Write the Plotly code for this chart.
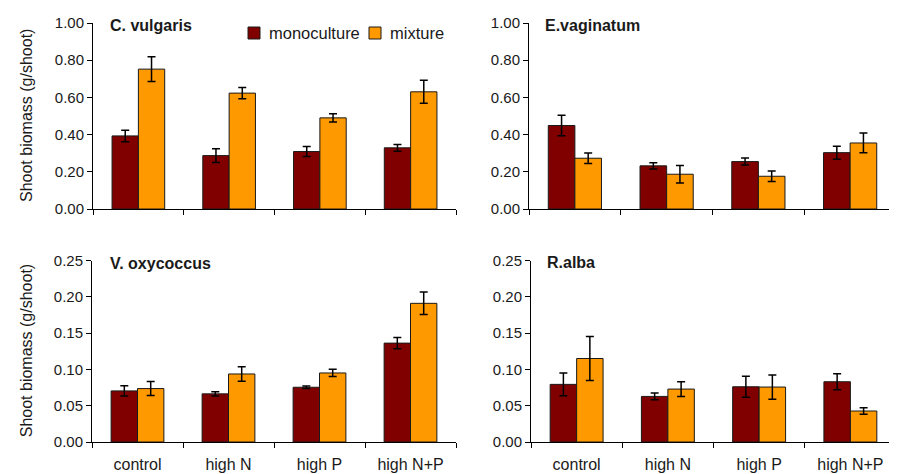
import plotly.graph_objects as go

categories = ["control", "high N", "high P", "high N+P"]
series_names = ["monoculture", "mixture"]

# C. vulgaris
cv_mono = [0.393, 0.287, 0.309, 0.329]
cv_mono_err = [0.031, 0.037, 0.027, 0.018]
cv_mix = [0.752, 0.623, 0.490, 0.630]
cv_mix_err = [0.067, 0.030, 0.022, 0.062]

# E. vaginatum
ev_mono = [0.449, 0.232, 0.255, 0.303]
ev_mono_err = [0.055, 0.017, 0.019, 0.035]
ev_mix = [0.273, 0.187, 0.176, 0.355]
ev_mix_err = [0.028, 0.047, 0.028, 0.053]

# V. oxycoccus
vo_mono = [0.0704, 0.0663, 0.0754, 0.1362]
vo_mono_err = [0.0071, 0.0028, 0.0018, 0.0076]
vo_mix = [0.0736, 0.0937, 0.0951, 0.1910]
vo_mix_err = [0.0096, 0.0100, 0.0050, 0.0155]

# R. alba
ra_mono = [0.0794, 0.0628, 0.0761, 0.0830]
ra_mono_err = [0.0156, 0.0046, 0.0145, 0.0110]
ra_mix = [0.1150, 0.0729, 0.0757, 0.0427]
ra_mix_err = [0.0303, 0.0101, 0.0167, 0.0044]

panel_titles = ["C. vulgaris", "E.vaginatum", "V. oxycoccus", "R.alba"]
y_title = "Shoot biomass (g/shoot)"

MONO_COLOR = "#800000"
MIX_COLOR = "#FF9900"
FONT = "Liberation Sans, Arial, sans-serif"

W, H = 897, 474
OFF = 8  # page body margin offset


def px_x(p):
    return (p - OFF) / W


def px_y(p):
    return 1 - (p - OFF) / H


panels = [
    (cv_mono, cv_mono_err, cv_mix, cv_mix_err),
    (ev_mono, ev_mono_err, ev_mix, ev_mix_err),
    (vo_mono, vo_mono_err, vo_mix, vo_mix_err),
    (ra_mono, ra_mono_err, ra_mix, ra_mix_err),
]

# screen pixel geometry -> paper domains
x_doms = [(px_x(93), px_x(456)), (px_x(529), px_x(896)),
          (px_x(92), px_x(456)), (px_x(531), px_x(896))]
y_doms = [(px_y(209), px_y(23)), (px_y(209), px_y(23)),
          (px_y(442), px_y(260.5)), (px_y(442), px_y(260.5))]

fig = go.Figure()
for i, (m, me, x, xe) in enumerate(panels):
    ax = "" if i == 0 else str(i + 1)
    for vals, errs, name, col in [(m, me, series_names[0], MONO_COLOR),
                                  (x, xe, series_names[1], MIX_COLOR)]:
        fig.add_trace(go.Bar(
            x=categories, y=vals, name=name,
            marker=dict(color=col, line=dict(color="#1a1a1a", width=1)),
            error_y=dict(type="data", array=errs, color="black", thickness=1.5, width=4),
            xaxis="x" + ax, yaxis="y" + ax,
            showlegend=False,
        ))

layout = dict(
    width=W, height=H,
    margin=dict(l=0, r=0, t=0, b=0, autoexpand=False),
    paper_bgcolor="white", plot_bgcolor="white",
    barmode="group", bargap=0.42, bargroupgap=0,
    font=dict(family=FONT, size=15, color="#1a1a1a"),
    showlegend=False,
)

annotations = []
shapes = []
for i in range(4):
    ax = "" if i == 0 else str(i + 1)
    bottom = i >= 2
    layout["xaxis" + ax] = dict(
        domain=list(x_doms[i]), anchor="y" + ax, type="category",
        showline=True, linecolor="black", linewidth=1,
        ticks="outside", ticklen=5, tickcolor="black", tickson="boundaries",
        showticklabels=bottom, tickfont=dict(size=16), showgrid=False,
        ticklabelstandoff=8,
        range=[-0.5, 3.5], fixedrange=True,
    )
    yax = dict(
        domain=list(y_doms[i]), anchor="x" + ax,
        showline=True, linecolor="black", linewidth=1,
        ticks="outside", ticklen=5, tickcolor="black",
        showgrid=False, zeroline=False, tickfont=dict(size=15),
    )
    if bottom:
        yax.update(range=[0, 0.25], dtick=0.05, tickformat=".2f")
    else:
        yax.update(range=[0, 1.0], dtick=0.2, tickformat=".2f")
    layout["yaxis" + ax] = yax
    if i in (0, 2):
        ymid = (y_doms[i][0] + y_doms[i][1]) / 2
        annotations.append(dict(
            text=y_title, x=px_x(26), y=ymid, xref="paper", yref="paper",
            textangle=-90, showarrow=False, font=dict(size=16),
            xanchor="center", yanchor="middle",
        ))

title_pos = [(108, 25), (543, 25), (108, 263), (545, 262)]
for t, (sx, sy) in zip(panel_titles, title_pos):
    annotations.append(dict(
        text="<b>" + t + "</b>", x=px_x(sx), y=px_y(sy), xref="paper", yref="paper",
        xanchor="left", yanchor="middle", showarrow=False, font=dict(size=16),
    ))

# legend (swatch + label) in the top-left panel
legend_items = [(series_names[0], MONO_COLOR, 248), (series_names[1], MIX_COLOR, 369)]
for name, col, sx in legend_items:
    shapes.append(dict(
        type="rect", xref="paper", yref="paper",
        x0=px_x(sx), x1=px_x(sx + 12), y0=px_y(39), y1=px_y(27),
        fillcolor=col, line=dict(color="#1a1a1a", width=1),
    ))
    annotations.append(dict(
        text=name, x=px_x(sx + 19), y=px_y(33), xref="paper", yref="paper",
        xanchor="left", yanchor="middle", showarrow=False, font=dict(size=16.5),
    ))

layout["annotations"] = annotations
layout["shapes"] = shapes
fig.update_layout(**layout)
fig.write_html("out.html")
